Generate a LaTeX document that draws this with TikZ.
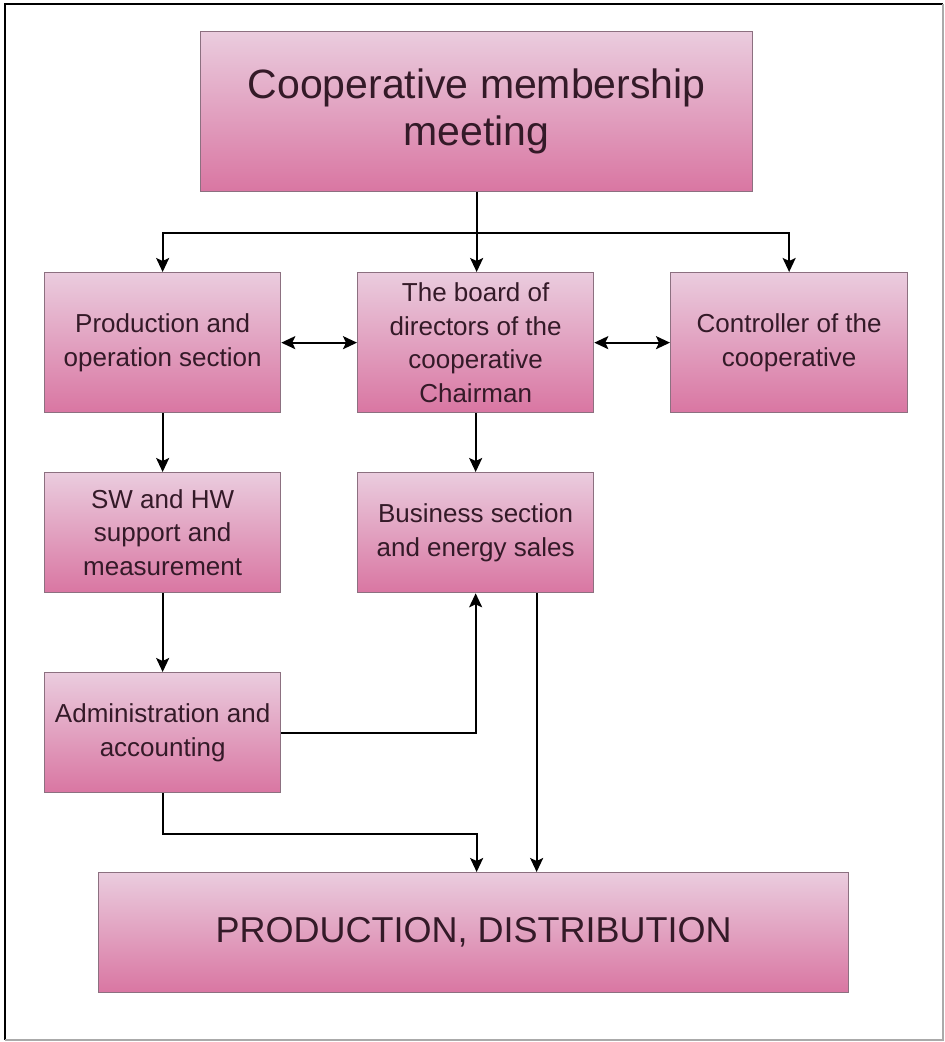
\documentclass[tikz,border=0pt]{standalone}
\usepackage{fontspec}
\setmainfont{Liberation Sans}
\usetikzlibrary{arrows.meta}
\definecolor{boxtop}{RGB}{234,204,222}
\definecolor{boxbot}{RGB}{217,118,162}
\definecolor{boxline}{RGB}{140,112,128}
\definecolor{ink}{RGB}{52,26,40}
\definecolor{framegray}{RGB}{170,170,170}

\begin{document}
\begin{tikzpicture}[x=1pt,y=-1pt,
  box/.style={draw=boxline, line width=1.3pt, top color=boxtop, bottom color=boxbot,
    text=ink, align=center, inner sep=0pt, anchor=north west},
  midtext/.style={font=\fontsize{26}{33.5}\selectfont},
  tip/.style={Stealth[length=14pt,width=13pt,inset=3pt]},
  conn/.style={line width=2pt, -{Stealth[length=14pt,width=13pt,inset=3pt]}},
  twoway/.style={line width=2pt, {Stealth[length=14pt,width=13pt,inset=3pt]}-{Stealth[length=14pt,width=13pt,inset=3pt]}}
]
\useasboundingbox (0,0) rectangle (945,1042);
% outer frame
\draw[line width=2.5pt, black] (5,1040) -- (5,4) -- (943,4);
\draw[line width=2pt, framegray] (943,4) -- (943,1040) -- (5,1040);

% boxes
\node[box, minimum width=552pt, minimum height=160pt, font=\fontsize{41}{47}\selectfont]
  (meeting) at (200,31) {Cooperative membership\\meeting};
\node[box, midtext, minimum width=236pt, minimum height=140pt]
  (prod) at (44,272) {Production and\\operation section};
\node[box, midtext, minimum width=236pt, minimum height=140pt]
  (board) at (357,272) {The board of\\directors of the\\cooperative\\Chairman};
\node[box, midtext, minimum width=237pt, minimum height=140pt]
  (ctrl) at (670,272) {Controller of the\\cooperative};
\node[box, midtext, minimum width=236pt, minimum height=120pt]
  (sw) at (44,472) {SW and HW\\support and\\measurement};
\node[box, midtext, minimum width=236pt, minimum height=120pt]
  (biz) at (357,472) {Business section\\and energy sales};
\node[box, midtext, minimum width=236pt, minimum height=120pt]
  (admin) at (44,672) {Administration and\\accounting};
\node[box, minimum width=750pt, minimum height=120pt, font=\fontsize{36}{43}\selectfont]
  (prodist) at (98,872) {PRODUCTION, DISTRIBUTION};

% connectors
\coordinate (split) at (meeting.south |- 0,233);
\draw[line width=2pt] (meeting.south) -- (split);
\draw[conn] (split) -- (split |- board.north);
\draw[conn] (split) -| (prod.north);
\draw[conn] (split) -| (ctrl.north);
\draw[twoway] (prod.east) -- (board.west);
\draw[twoway] (board.east) -- (ctrl.west);
\draw[conn] (prod.south) -- (sw.north);
\draw[conn] (board.south) -- (biz.north);
\draw[conn] (sw.south) -- (admin.north);
\draw[conn] (admin.east) -| (biz.south);
\coordinate (inA) at ([xshift=3pt]prodist.north);
\coordinate (inB) at ([xshift=63pt]prodist.north);
\draw[conn] (admin.south) -- ++(0,41) -| (inA);
\draw[conn] (biz.south -| inB) -- (inB);
\end{tikzpicture}
\end{document}
